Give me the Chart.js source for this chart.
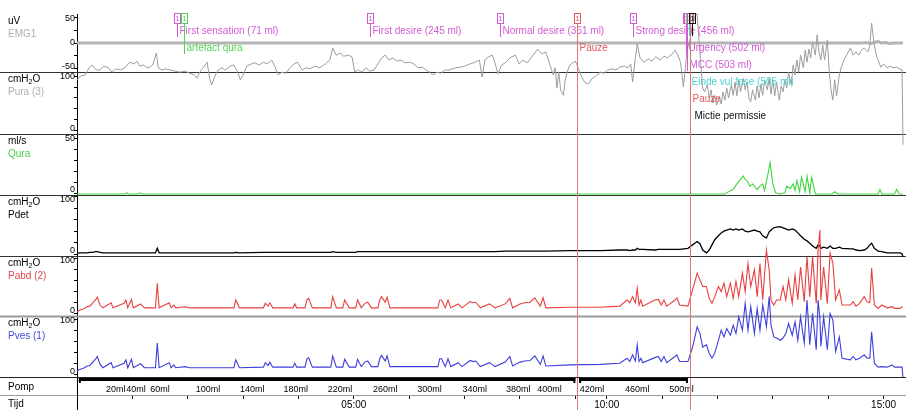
<!DOCTYPE html>
<html>
<head>
<meta charset="utf-8">
<script src="https://cdn.jsdelivr.net/npm/chart.js@4.4.1/dist/chart.umd.min.js"></script>
<style>
  html, body { margin: 0; padding: 0; background: #fff; }
  canvas { display: block; }
</style>
</head>
<body>
<canvas id="uroChart" width="906" height="410"></canvas>
<script>
// Time axis is in seconds of displayed recording (the pause is folded out)
const tijdTicks = [60, 120, 180, 240, 300, 360, 420, 480, 540, 574, 634, 694, 754, 814, 874];
const tijdLabels = ['', '', '', '', '05:00', '', '', '', '', '10:00', '', '', '', '', '15:00'];

// Pump volume marks and pump running periods
const pompTimes = [42, 64, 90, 142, 190, 237, 285, 334, 382, 431, 478, 512, 558, 607, 655];
const pompVolumes = [20, 40, 60, 100, 140, 180, 220, 260, 300, 340, 380, 400, 420, 460, 500];
const pompRuns = [[2, 540], [544, 662]];

// Event markers
const eventTimes = [108, 116, 317, 458, 542, 602, 660, 661, 663, 664, 666];
const eventLabels = ['First sensation (71 ml)', 'artefact qura', 'First desire (245 ml)', 'Normal desire (361 ml)',
  'Pauze', 'Strong desire (456 ml)', 'Urgency (502 ml)', 'MCC (503 ml)', 'Einde vul fase (505 ml)', 'Pauze', 'Mictie permissie'];
const eventKinds = ['sensation', 'artefact', 'sensation', 'sensation', 'pause', 'sensation', 'sensation', 'sensation', 'fill', 'pause', 'mictie'];

// Pressure channels share one time base
const tPress = [
  0, 3, 7, 11, 14, 17, 20, 22, 25, 28,
  37, 39, 51, 53, 55, 59, 61, 69, 73, 85,
  87, 89, 100, 102, 105, 107, 117, 122, 170, 172,
  176, 202, 204, 207, 209, 212, 234, 236, 238, 247,
  249, 251, 255, 275, 277, 281, 288, 290, 295, 302,
  304, 308, 312, 315, 319, 326, 328, 330, 334, 336,
  339, 391, 393, 395, 399, 402, 405, 413, 417, 426,
  429, 432, 437, 447, 453, 464, 469, 472, 480, 485,
  491, 496, 502, 505, 508, 534, 567, 588, 596, 599,
  602, 605, 607, 609, 611, 613, 626, 630, 633, 636,
  639, 648, 650, 653, 662, 667, 672, 675, 678, 682,
  685, 688, 691, 695, 698, 701, 704, 708, 711, 714,
  717, 721, 724, 727, 730, 734, 737, 740, 743, 747,
  750, 752, 755, 758, 762, 765, 768, 771, 775, 778,
  781, 784, 788, 791, 794, 797, 801, 803, 805, 806,
  809, 813, 816, 819, 822, 826, 829, 838, 841, 844,
  848, 853, 856, 859, 861, 864, 868, 872, 878, 883,
  886, 892, 894, 895
];
const pabd = [
  4, 7, 9, 13, 14, 20, 25, 30, 16, 11,
  20, 11, 19, 25, 11, 26, 11, 18, 11, 11,
  55, 11, 20, 11, 16, 11, 13, 11, 11, 25,
  11, 11, 19, 14, 20, 11, 11, 18, 11, 11,
  25, 28, 11, 11, 31, 11, 11, 25, 11, 11,
  25, 11, 19, 21, 11, 11, 25, 31, 21, 30,
  11, 11, 25, 25, 11, 25, 11, 18, 11, 22,
  20, 21, 11, 18, 11, 18, 28, 11, 18, 20,
  21, 29, 14, 29, 11, 12, 12, 14, 25, 20,
  31, 20, 46, 16, 25, 14, 25, 26, 16, 25,
  14, 25, 29, 16, 14, 43, 73, 61, 49, 49,
  28, 19, 31, 49, 40, 55, 31, 55, 28, 58,
  31, 73, 40, 90, 49, 79, 31, 90, 25, 114,
  79, 25, 16, 25, 25, 49, 25, 61, 19, 70,
  25, 84, 22, 102, 31, 102, 19, 114, 150, 25,
  84, 19, 109, 91, 25, 43, 16, 16, 22, 14,
  19, 31, 22, 20, 82, 16, 10, 16, 11, 13,
  10, 10, 13, 13
];
const pves = [
  7, 10, 12, 16, 17, 23, 28, 33, 19, 13,
  22, 13, 21, 27, 13, 28, 13, 20, 13, 13,
  57, 13, 22, 13, 18, 13, 15, 13, 13, 27,
  13, 14, 22, 17, 23, 14, 14, 21, 14, 14,
  28, 31, 14, 14, 34, 14, 14, 28, 14, 14,
  28, 15, 23, 25, 15, 15, 29, 35, 25, 34,
  15, 15, 29, 29, 15, 29, 15, 22, 15, 26,
  24, 25, 15, 22, 15, 23, 33, 16, 23, 25,
  26, 34, 19, 34, 16, 18, 19, 21, 30, 24,
  36, 25, 54, 24, 30, 22, 31, 33, 24, 33,
  22, 33, 36, 24, 24, 50, 86, 74, 50, 54,
  39, 30, 39, 62, 80, 68, 83, 71, 89, 74,
  104, 80, 128, 80, 122, 74, 119, 80, 125, 86,
  140, 89, 68, 66, 62, 66, 74, 92, 71, 95,
  62, 104, 57, 134, 54, 110, 45, 134, 100, 51,
  104, 45, 110, 98, 42, 68, 30, 27, 33, 27,
  30, 36, 30, 30, 77, 21, 14, 15, 14, 18,
  14, 14, 14, -5
];
const pdet = [
  1, 2, 2, 2, 3, 3, 4, 4, 3, 2,
  2, 2, 2, 2, 2, 2, 2, 2, 2, 2,
  10, 2, 2, 2, 2, 2, 2, 2, 2, 3,
  2, 3, 3, 3, 3, 3, 3, 3, 3, 3,
  3, 3, 3, 3, 4, 3, 3, 3, 3, 3,
  4, 4, 4, 4, 4, 4, 4, 4, 4, 4,
  4, 4, 4, 4, 4, 4, 4, 4, 4, 4,
  4, 4, 4, 4, 4, 5, 5, 5, 5, 5,
  5, 5, 5, 5, 5, 6, 6, 7, 7, 6,
  7, 7, 10, 8, 8, 8, 7, 8, 8, 8,
  8, 8, 8, 8, 10, 16, 22, 18, 7, 2,
  7, 16, 25, 32, 37, 40, 42, 44, 42, 44,
  42, 44, 40, 39, 40, 42, 40, 39, 32, 28,
  39, 42, 46, 47, 48, 46, 44, 42, 44, 42,
  37, 32, 26, 23, 19, 14, 10, 16, 14, 10,
  12, 10, 14, 10, 10, 12, 10, 9, 9, 7,
  6, 7, 10, 16, 19, 10, 5, 4, 2, 2,
  2, 2, 0, -5
];

// Urethral pressure [time, cmH2O]
const pura = [
  [0, 93], [4, 100], [9, 102], [13, 115], [16, 120], [21, 111], [25, 111], [29, 118], [34, 115], [38, 107],
  [42, 113], [47, 111], [52, 115], [57, 125], [62, 122], [65, 127], [68, 118], [72, 120], [76, 115], [79, 116],
  [82, 120], [86, 142], [88, 115], [92, 111], [96, 113], [101, 111], [106, 109], [112, 107], [117, 109], [122, 105],
  [127, 102], [130, 96], [133, 107], [138, 118], [141, 125], [144, 93], [146, 84], [150, 102], [153, 111], [157, 115],
  [161, 111], [166, 118], [170, 120], [174, 107], [177, 93], [180, 102], [184, 118], [189, 122], [193, 124], [197, 120],
  [202, 125], [206, 122], [211, 129], [215, 115], [218, 102], [222, 107], [226, 105], [231, 115], [235, 122], [239, 125],
  [244, 111], [248, 115], [252, 113], [258, 118], [263, 115], [269, 122], [274, 129], [277, 151], [281, 138], [285, 142],
  [289, 136], [294, 138], [298, 135], [301, 107], [304, 111], [309, 107], [313, 115], [317, 109], [322, 111], [326, 122],
  [330, 133], [334, 138], [338, 129], [342, 133], [347, 127], [351, 129], [355, 124], [361, 125], [365, 122], [369, 115],
  [374, 116], [378, 111], [382, 107], [386, 102], [390, 107], [394, 105], [399, 111], [404, 111], [410, 115], [415, 116],
  [420, 118], [426, 122], [431, 125], [436, 129], [439, 98], [442, 129], [446, 135], [450, 138], [453, 124], [456, 104],
  [460, 120], [465, 125], [469, 133], [475, 138], [479, 122], [483, 129], [488, 124], [492, 133], [496, 142], [499, 149],
  [504, 140], [508, 144], [512, 122], [516, 102], [518, 115], [520, 78], [522, 107], [524, 75], [527, 65], [529, 93],
  [531, 107], [534, 120], [537, 124], [540, 127], [543, 115], [547, 98], [550, 89], [554, 85], [558, 95], [562, 100],
  [567, 107], [571, 105], [575, 111], [580, 113], [584, 111], [588, 116], [593, 118], [597, 115], [600, 122], [602, 89],
  [605, 133], [607, 158], [610, 133], [614, 125], [619, 131], [623, 127], [627, 135], [632, 129], [636, 136], [640, 133],
  [645, 140], [648, 147], [651, 138], [654, 125], [657, 80], [659, 111], [661, 147], [664, 165], [667, 193], [670, 211],
  [672, 213], [674, 165], [676, 120], [678, 78], [680, 71], [683, 84], [685, 60], [687, 75], [689, 51], [691, 65],
  [693, 47], [696, 62], [698, 49], [700, 71], [702, 56], [704, 78], [706, 60], [709, 84], [711, 65], [713, 89],
  [715, 64], [717, 93], [719, 71], [722, 96], [724, 75], [726, 89], [728, 60], [730, 53], [732, 75], [735, 56],
  [737, 82], [739, 60], [741, 85], [743, 65], [745, 93], [748, 75], [750, 96], [752, 67], [754, 93], [756, 64],
  [758, 89], [761, 56], [763, 82], [765, 71], [767, 93], [769, 78], [771, 107], [774, 84], [776, 120], [778, 102],
  [780, 129], [782, 107], [784, 138], [787, 115], [789, 147], [791, 125], [793, 149], [795, 133], [797, 162], [800, 138],
  [802, 175], [804, 144], [806, 129], [808, 156], [810, 129], [813, 165], [815, 111], [817, 75], [819, 56], [821, 93],
  [823, 64], [826, 102], [828, 115], [831, 129], [834, 138], [838, 151], [841, 138], [844, 144], [847, 138], [850, 147],
  [853, 151], [857, 144], [859, 155], [861, 196], [864, 156], [866, 138], [868, 129], [871, 116], [874, 122], [878, 115],
  [881, 118], [884, 115], [888, 116], [891, 113], [894, 111], [895, -25]
];

// Flow [time, ml/s]
const qura = [
  [0, 0], [52, 0], [54, 1], [56, 0], [66, 0], [68, 1], [70, 0], [702, 0], [708, 3], [711, 4],
  [715, 9], [718, 12], [722, 16], [724, 13], [726, 12], [729, 7], [732, 9], [737, 4], [740, 7], [743, 9],
  [745, 3], [748, 15], [751, 28], [754, 9], [757, 1], [762, 0], [767, 1], [769, 7], [773, 5], [776, 9],
  [778, 3], [780, 12], [783, 2], [785, 15], [789, 2], [791, 16], [794, 1], [796, 15], [800, 0], [818, 0],
  [821, 2], [824, 0], [868, 0], [870, 4], [872, 0], [886, 0], [888, 4], [891, 0], [895, 0]
];

// EMG [time, uV]
const emg = [
  [0, 0], [850, 0], [855, 1], [860, -1], [864, 1], [868, 3], [871, 0], [876, 1], [880, -1], [886, 0], [895, 0]
];

const FONT = "'Liberation Sans', Arial, sans-serif";
Chart.defaults.font.family = FONT;
Chart.defaults.color = '#000';

// panel layout, top to bottom
const panels = [
  { id: 'emg',  unit: 'uV',    name: 'EMG1',     nameColor: '#b0b0b0', height: 58, min: -56,  max: 56,    marks: [-50, -25, 0, 25, 50],     labels: [50, 0, -50] },
  { id: 'pura', unit: 'cmH2O', name: 'Pura (3)', nameColor: '#b0b0b0', height: 62, min: -5.5, max: 107.3, marks: [0, 20, 40, 60, 80, 100], labels: [100, 0] },
  { id: 'qura', unit: 'ml/s',  name: 'Qura',     nameColor: '#44cc44', height: 61, min: -0.9, max: 53.6,  marks: [0, 10, 20, 30, 40, 50],   labels: [50, 0] },
  { id: 'pdet', unit: 'cmH2O', name: 'Pdet',     nameColor: '#000000', height: 61, min: -3.5, max: 103.5, marks: [0, 20, 40, 60, 80, 100], labels: [100, 0] },
  { id: 'pabd', unit: 'cmH2O', name: 'Pabd (2)', nameColor: '#e04848', height: 60, min: -3.6, max: 103.6, marks: [0, 20, 40, 60, 80, 100], labels: [100, 0] },
  { id: 'pves', unit: 'cmH2O', name: 'Pves (1)', nameColor: '#4848d8', height: 61, min: -3.6, max: 105.4, marks: [0, 20, 40, 60, 80, 100], labels: [100, 0] }
];

const eventColors = { sensation: '#d35ad3', artefact: '#52d452', pause: '#e05c5c', fill: '#4cd2d2', mictie: '#111111' };
const eventRows = [0, 1, 0, 0, 1, 0, 1, 2, 3, 4, 5];

const scales = {
  x: {
    type: 'linear', position: 'bottom', min: 0, max: 895, weight: 2,
    afterBuildTicks: s => { s.ticks = tijdTicks.map(v => ({ value: v })); },
    afterFit: s => { s.height = 15; },
    ticks: { autoSkip: false, maxRotation: 0, minRotation: 0, padding: 0, font: { size: 10 },
      callback: (v, i) => tijdLabels[i] },
    grid: { drawOnChartArea: false, drawTicks: true, tickLength: 4, color: '#000' },
    border: { display: false }
  },
  pomp: {
    type: 'linear', position: 'bottom', min: 0, max: 895, weight: 1,
    afterBuildTicks: s => { s.ticks = pompTimes.map(v => ({ value: v })); },
    afterFit: s => { s.height = 18; },
    ticks: { autoSkip: false, maxRotation: 0, minRotation: 0, padding: 7, font: { size: 9 },
      callback: (v, i) => pompVolumes[i] + 'ml' },
    grid: { drawOnChartArea: false, drawTicks: false },
    border: { display: false }
  }
};
panels.forEach((p, i) => {
  scales[p.id] = {
    type: 'linear', position: 'left', stack: 'panels', stackWeight: p.height,
    weight: panels.length - i, min: p.min, max: p.max,
    afterBuildTicks: s => { s.ticks = p.marks.map(v => ({ value: v })); },
    afterFit: s => { s.width = 77; },
    ticks: { display: false },
    grid: { drawOnChartArea: false, drawTicks: true, tickLength: 3, color: '#000' },
    border: { display: true, color: '#000', width: 1 }
  };
});

const pairs = arr => arr.map(([t, v]) => ({ x: t, y: v }));
const onTime = vals => tPress.map((t, i) => ({ x: t, y: vals[i] }));
// traces may run past their own panel, as on the recorder
const line = (label, axis, data, color, width) => ({
  label, data, yAxisID: axis, xAxisID: 'x', clip: false,
  borderColor: color, borderWidth: width, pointRadius: 0, tension: 0, fill: false
});

function drawUnit(ctx, text, x, y) {
  if (text === 'cmH2O') {
    ctx.fillText('cmH', x, y);
    const w = ctx.measureText('cmH').width;
    ctx.save();
    ctx.font = '7px ' + FONT;
    ctx.fillText('2', x + w, y + 3);
    const w2 = ctx.measureText('2').width;
    ctx.restore();
    ctx.fillText('O', x + w + w2, y);
  } else {
    ctx.fillText(text, x, y);
  }
}

const hline = (ctx, y, color, width) => {
  ctx.strokeStyle = color;
  ctx.lineWidth = width;
  ctx.beginPath();
  ctx.moveTo(0, Math.round(y) + 0.5);
  ctx.lineTo(906, Math.round(y) + 0.5);
  ctx.stroke();
};

const panelDecor = {
  id: 'panelDecor',
  beforeDatasetsDraw(chart) {
    const ctx = chart.ctx;
    ctx.save();
    panels.forEach(p => {
      const s = chart.scales[p.id];
      hline(ctx, s.bottom, p.id === 'pabd' ? '#999' : '#333', p.id === 'pabd' ? 2 : 1);
    });
    hline(ctx, chart.scales.pomp.bottom, '#999', 1);
    ctx.restore();
  },
  afterDatasetsDraw(chart) {
    const ctx = chart.ctx;
    const xs = chart.scales.x;
    ctx.save();
    eventTimes.forEach((t, i) => {
      const kind = eventKinds[i];
      const col = eventColors[kind];
      const x = Math.round(xs.getPixelForValue(t)) + 0.5;
      const rowY = 31 + eventRows[i] * 17;
      ctx.lineWidth = 1;
      ctx.strokeStyle = kind === 'pause' ? '#e07575' : col;
      ctx.beginPath();
      ctx.moveTo(x, 24);
      ctx.lineTo(x, kind === 'pause' ? 410 : (eventRows[i] <= 2 ? rowY + 6 : 36));
      ctx.stroke();
      ctx.strokeStyle = col;
      ctx.strokeRect(x - 3, 13.5, 6, 10);
      ctx.fillStyle = col;
      ctx.font = '8px ' + FONT;
      ctx.textAlign = 'center';
      ctx.textBaseline = 'middle';
      ctx.fillText('1', x, 19);
      ctx.font = '10px ' + FONT;
      ctx.textAlign = 'left';
      ctx.fillText(eventLabels[i], x + 2, rowY);
    });
    ctx.restore();
  },
  afterDraw(chart) {
    const ctx = chart.ctx;
    const xs = chart.scales.x;
    const pomp = chart.scales.pomp;
    ctx.save();
    // left labels and value labels
    ctx.textBaseline = 'middle';
    panels.forEach(p => {
      const s = chart.scales[p.id];
      ctx.font = '10px ' + FONT;
      ctx.textAlign = 'left';
      ctx.fillStyle = '#000';
      drawUnit(ctx, p.unit, 8, s.top + 7);
      ctx.fillStyle = p.nameColor;
      ctx.fillText(p.name, 8, s.top + 20);
      ctx.fillStyle = '#000';
      ctx.font = '9px ' + FONT;
      ctx.textAlign = 'right';
      p.labels.forEach(v => {
        const y = Math.min(Math.max(s.getPixelForValue(v), s.top + 5), s.bottom - 5);
        ctx.fillText(String(v), 75, y);
      });
    });
    ctx.font = '10px ' + FONT;
    ctx.textAlign = 'left';
    ctx.fillStyle = '#000';
    ctx.fillText('Pomp', 8, pomp.top + 10);
    ctx.fillText('Tijd', 8, xs.top + 9);
    // axis line through the pump and time rows
    ctx.strokeStyle = '#000';
    ctx.lineWidth = 1;
    ctx.beginPath();
    ctx.moveTo(77.5, pomp.top);
    ctx.lineTo(77.5, 410);
    ctx.stroke();
    hline(ctx, pomp.top, '#222', 1);
    // pump running bar
    pompRuns.forEach(([a, b]) => {
      const x1 = xs.getPixelForValue(a);
      const x2 = xs.getPixelForValue(b);
      ctx.fillStyle = '#000';
      ctx.fillRect(x1, pomp.top + 1, x2 - x1, 3);
      ctx.fillRect(x1, pomp.top + 1, 2, 5);
      ctx.fillRect(x2 - 2, pomp.top + 1, 2, 5);
    });
    ctx.restore();
  }
};

new Chart(document.getElementById('uroChart'), {
  type: 'line',
  data: {
    datasets: [
      line('Pabd (2)', 'pabd', onTime(pabd), '#e8403f', 1.1),
      line('Pves (1)', 'pves', onTime(pves), '#3f3fdc', 1.1),
      line('Pdet', 'pdet', onTime(pdet), '#000000', 1.3),
      line('Qura', 'qura', pairs(qura), '#3fd63f', 1.1),
      line('Pura (3)', 'pura', pairs(pura), '#9c9c9c', 1),
      line('EMG1', 'emg', pairs(emg), '#b4b4b4', 3)
    ]
  },
  options: {
    responsive: false,
    animation: false,
    events: [],
    layout: { padding: { top: 14, right: 3, left: 0, bottom: 0 } },
    plugins: { legend: { display: false }, tooltip: { enabled: false } },
    scales
  },
  plugins: [panelDecor]
});
</script>
</body>
</html>
